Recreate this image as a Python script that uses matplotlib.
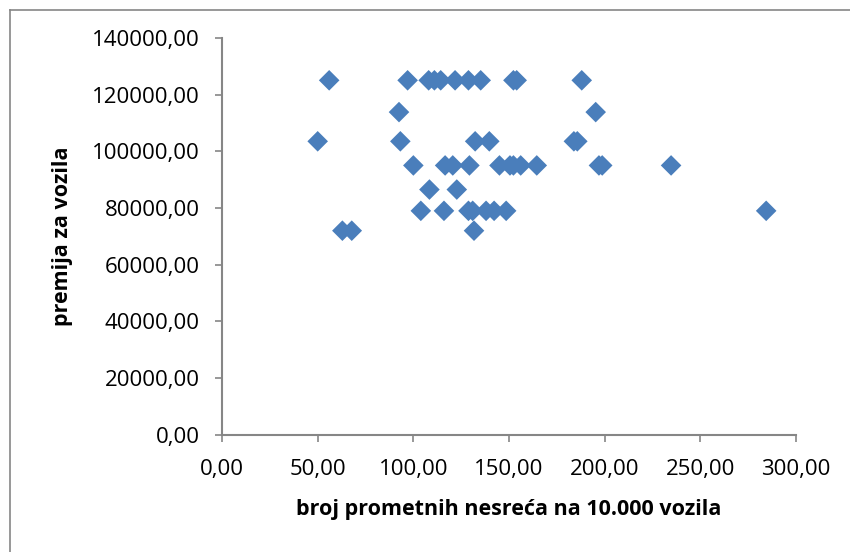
import numpy as np
import matplotlib.pyplot as plt
from matplotlib.lines import Line2D
from matplotlib.ticker import FuncFormatter

# broj prometnih nesreca na 10.000 vozila vs premija za vozila
nesrece = [56, 97, 108, 111, 114.3, 121.8, 128.8, 135.2, 152.3, 154, 188,
           92.5, 195.3,
           50, 93.2, 132.3, 139.7, 183.9, 185.7,
           100, 116.6, 120.6, 129.3, 145, 150.5, 152.3, 156.1, 164.5, 197, 198.7, 234.7,
           108.4, 122.7,
           103.9, 116, 128.8, 131, 138, 142.2, 148.5, 284.4,
           62.9, 67.8, 131.7]
premija = [125000] * 11 + [113800] * 2 + [103500] * 6 + [95000] * 12 + [86500] * 2 \
          + [79000] * 8 + [72000] * 3

blue = '#4a7ebb'
grey = '#868686'

def zarez(v, pos):
    return f'{v:.2f}'.replace('.', ',')

plt.rcParams['font.family'] = ['Open Sans', 'DejaVu Sans']

fig = plt.figure(figsize=(8.5, 5.52), dpi=100)
# chart area border (only left and top visible in the crop)
fig.lines.append(Line2D([0.0112, 0.0112], [0, 0.9819], transform=fig.transFigure, color=grey, lw=1.2))
fig.lines.append(Line2D([0.0112, 1.0], [0.9819, 0.9819], transform=fig.transFigure, color=grey, lw=1.2))

ax = fig.add_axes([0.2612, 0.212, 0.6753, 0.7196])
ax.scatter(nesrece, premija, marker='D', s=110, c=blue, edgecolors='none', zorder=3)

ax.set_xlim(0, 300)
ax.set_ylim(0, 140000)
ax.set_xticks(np.arange(0, 301, 50))
ax.set_yticks(np.arange(0, 140001, 20000))
ax.xaxis.set_major_formatter(FuncFormatter(zarez))
ax.yaxis.set_major_formatter(FuncFormatter(zarez))
for s in ['top', 'right']:
    ax.spines[s].set_visible(False)
for s in ['left', 'bottom']:
    ax.spines[s].set_color(grey)
    ax.spines[s].set_linewidth(1.5)
ax.tick_params(colors=grey, labelcolor='black', labelsize=16, length=5, width=1.2)
ax.tick_params(axis='y', pad=11)
ax.tick_params(axis='x', pad=12)
ax.set_xlabel('broj prometnih nesreća na 10.000 vozila', fontsize=15.5, fontweight='bold', labelpad=14)
ax.set_ylabel('premija za vozila', fontsize=15.5, fontweight='bold', labelpad=14)

fig.savefig('out.png', dpi=100)
